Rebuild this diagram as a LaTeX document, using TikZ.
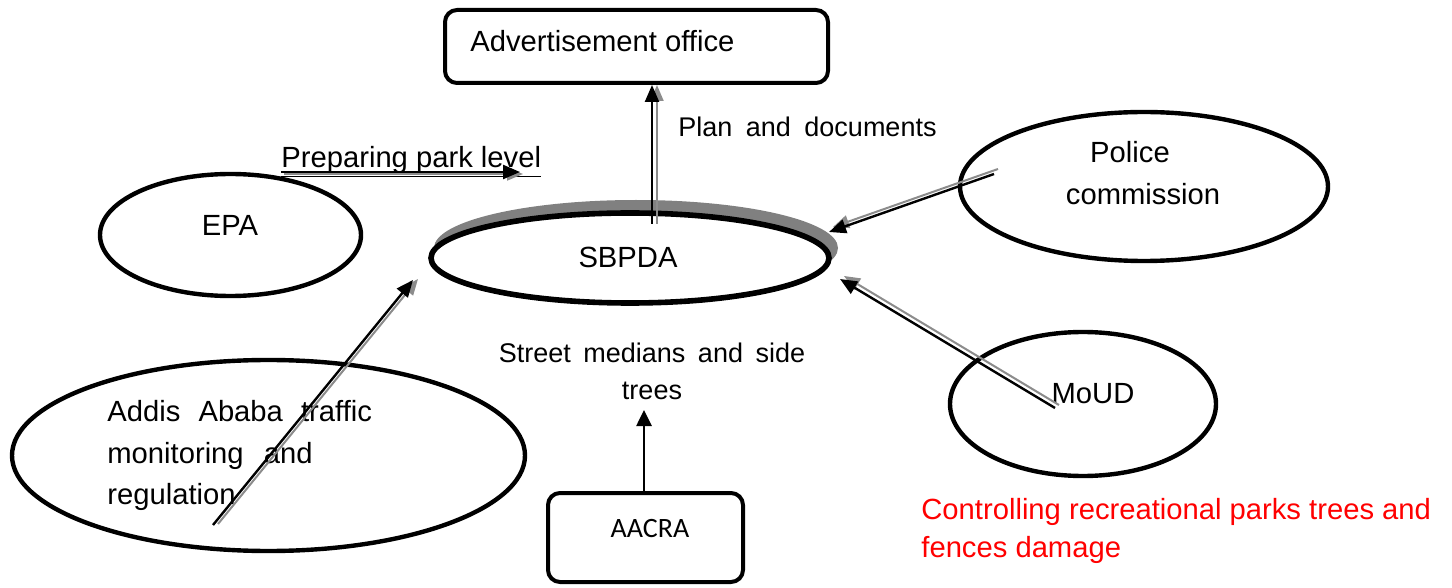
\documentclass[tikz,border=0pt]{standalone}
\usepackage{fontspec}
\setmainfont{Liberation Sans}
\newfontfamily\calfont{Carlito}
\usetikzlibrary{arrows.meta,shapes.geometric}
\begin{document}
\begin{tikzpicture}[x=0.5pt,y=-0.5pt,
  oval/.style={ellipse, draw, line width=2.2pt, fill=white, inner sep=0pt},
  rbox/.style={draw, line width=2pt, rounded corners=6pt, fill=white, inner sep=0pt},
  lbl/.style={inner sep=0pt, anchor=base west, font=\fontsize{14.6}{17}\selectfont},
  clbl/.style={inner sep=0pt, anchor=base, font=\fontsize{14.6}{17}\selectfont},
  slbl/.style={inner sep=0pt, anchor=base, font=\fontsize{13.5}{16}\selectfont},
  sh/.style={draw=black!45, line width=1pt, -{Triangle[length=8pt,width=6.5pt]}},
  bk/.style={draw=black, line width=1.2pt, -{Triangle[length=8.5pt,width=7pt]}},
  plain/.style={draw=black, line width=1.3pt, -{Triangle[length=8pt,width=7.5pt]}}
]
\useasboundingbox (0,0) rectangle (1452,588);

% shapes
\node[rbox, minimum width=191.5pt, minimum height=36.5pt] (adv) at (636.5,46.5) {};
\node[oval, minimum width=130.5pt, minimum height=61pt] (epa) at (230.5,235) {};
\node[oval, minimum width=256.5pt, minimum height=95.5pt] (addis) at (268.5,455.5) {};
\node[oval, minimum width=184pt, minimum height=74.5pt] (police) at (1144,186.5) {};
\node[oval, minimum width=133pt, minimum height=72pt] (moud) at (1083,404) {};
\node[ellipse, fill=black!50, draw=none, minimum width=202pt, minimum height=48pt] (sbshadow) at (636,248) {};
\node[oval, line width=2.8pt, minimum width=199pt, minimum height=45pt] (sbpda) at (630,258) {};
\node[rbox, minimum width=97.5pt, minimum height=44.5pt] (aacra) at (645.5,537.5) {};

% texts
\node[lbl] (advtext) at (470,52) {Advertisement office};
\node[slbl, anchor=base west] (plantext) at (678,137) {Plan\hspace{3pt} and\hspace{3pt} documents};
\node[lbl] (preptext) at (281,168) {\underline{Preparing park level}};
\node[clbl] (epatext) at (230,236) {EPA};
\node[clbl] (sbtext) at (628,268) {SBPDA};
\node[clbl] (poltext1) at (1130,163) {Police};
\node[clbl] (poltext2) at (1143,205) {commission};
\node[clbl] (moudtext) at (1093,403) {MoUD};
\node[slbl] (streettext1) at (652,363) {Street\hspace{2.5pt} medians\hspace{2.5pt} and\hspace{2.5pt} side};
\node[slbl] (streettext2) at (652,400) {trees};
\node[lbl] (addis1) at (107,422) {Addis\hspace{5pt} Ababa\hspace{5pt} traffic};
\node[lbl] (addis2) at (107,463) {monitoring\hspace{6pt} and};
\node[lbl] (addis3) at (107,504) {regulation};
\node[lbl, text=red] (red1) at (921,519) {Controlling recreational parks trees and};
\node[lbl, text=red] (red2) at (921,557) {fences damage};
\node[inner sep=0pt, anchor=base, font=\calfont\fontsize{14}{16}\selectfont] (aacratext) at (650,537) {AACRA};

% connector end points
\coordinate (advS) at (652,224);
\coordinate (advT) at (652,85);
\coordinate (prepS) at (281,172);
\coordinate (prepT) at (520,172);
\coordinate (polS) at (994,174);
\coordinate (polT) at (829,232);
\coordinate (moudS) at (1055,408);
\coordinate (moudT) at (840,279);
\coordinate (addisS) at (213,525);
\coordinate (addisT) at (413,280);
\coordinate (aacraT) at (644,410);

% connectors (shadow + black)
\draw[sh] ([shift={(5,0)}]advS) -- ([shift={(5,0)}]advT);
\draw[bk] (advS) -- (advT);
\draw[sh] ([shift={(3,2)}]prepS) -- ([shift={(3,2)}]prepT);
\draw[bk] (prepS) -- (prepT);
\draw[sh] ([shift={(4,-5)}]polS) -- ([shift={(4,-5)}]polT);
\draw[bk] (polS) -- (polT);
\draw[sh] ([shift={(4,-3)}]moudS) -- ([shift={(4,-3)}]moudT);
\draw[bk] (moudS) -- (moudT);
\draw[sh] ([shift={(5,-1)}]addisS) -- ([shift={(5,-1)}]addisT);
\draw[bk] (addisS) -- (addisT);
\draw[plain] (aacra.north -| aacraT) -- (aacraT);
\end{tikzpicture}
\end{document}
